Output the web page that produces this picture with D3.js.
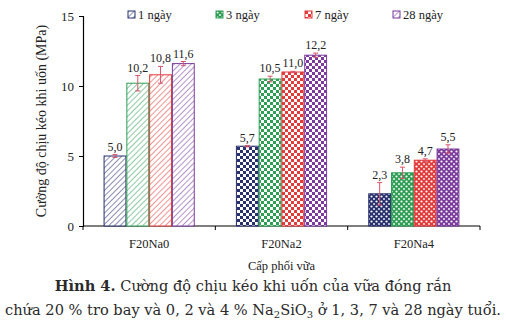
<!DOCTYPE html>
<html><head><meta charset="utf-8">
<script src="https://cdn.jsdelivr.net/npm/d3@7"></script>
<style>body{margin:0;background:#fff}svg{display:block} .sf{font-family:"Liberation Serif","Times New Roman",Times,serif}</style>
</head><body><svg id="c" width="506" height="334"></svg>
<script>
const categories = ["F20Na0", "F20Na2", "F20Na4"];
const seriesNames = ["1 ngày", "3 ngày", "7 ngày", "28 ngày"];
const values = [
  [5.0, 5.7, 2.3],
  [10.2, 10.5, 3.8],
  [10.8, 11.0, 4.7],
  [11.6, 12.2, 5.5]
];
const errors = [
  [0.1, 0.05, 0.8],
  [0.55, 0.2, 0.4],
  [0.6, 0.05, 0.1],
  [0.15, 0.15, 0.3]
];
const labels = [
  ["5,0", "5,7", "2,3"],
  ["10,2", "10,5", "3,8"],
  ["10,8", "11,0", "4,7"],
  ["11,6", "12,2", "5,5"]
];
const yTicks = [0, 5, 10, 15];
const colors = ["#28306e", "#2e9e54", "#e23b3b", "#7a3b9c"];

const svg = d3.select("#c");
const m = {l: 83, r: 26, t: 16, b: 108};
const W = 506, H = 334;
const x = d3.scaleBand().domain(categories).range([m.l, W - m.r]).paddingInner(0).paddingOuter(0);
const y = d3.scaleLinear().domain([0, 15]).range([H - m.b, m.t]);
const barW = 23;
const xs = d3.scaleBand().domain(d3.range(4)).range([0, barW * 4]).padding(0.04);

const defs = svg.append("defs");
colors.forEach((c, i) => {
  const p0 = defs.append("pattern").attr("id", `h${i}`).attr("patternUnits", "userSpaceOnUse")
    .attr("width", 4).attr("height", 4).attr("patternTransform", "rotate(45)");
  p0.append("rect").attr("width", 4).attr("height", 4).attr("fill", "#fff");
  p0.append("line").attr("x1", 0).attr("y1", 0).attr("x2", 0).attr("y2", 4).attr("stroke", c).attr("stroke-width", 1.1);
  const p1 = defs.append("pattern").attr("id", `k${i}`).attr("patternUnits", "userSpaceOnUse")
    .attr("width", 6).attr("height", 6);
  p1.append("rect").attr("width", 6).attr("height", 6).attr("fill", "#fff");
  p1.append("rect").attr("width", 3).attr("height", 3).attr("fill", c);
  p1.append("rect").attr("x", 3).attr("y", 3).attr("width", 3).attr("height", 3).attr("fill", c);
  const p2 = defs.append("pattern").attr("id", `d${i}`).attr("patternUnits", "userSpaceOnUse")
    .attr("width", 5).attr("height", 5);
  p2.append("rect").attr("width", 5).attr("height", 5).attr("fill", c);
  p2.append("circle").attr("cx", 1.5).attr("cy", 1.5).attr("r", 1.1).attr("fill", "#fff");
  p2.append("circle").attr("cx", 4).attr("cy", 4).attr("r", 0.9).attr("fill", "#fff");
});
const pat = ["h", "k", "d"];

// axes
const yAxis = svg.append("g").attr("transform", `translate(${m.l},0)`)
  .call(d3.axisLeft(y).tickValues(yTicks).tickSize(4).tickPadding(5));
yAxis.select(".domain").attr("stroke", "#000").attr("stroke-width", 1.2);
yAxis.selectAll("text").attr("class", "sf").attr("font-family", null).attr("font-size", 13).attr("fill", "#222");

const xAxisG = svg.append("g").attr("transform", `translate(0,${y(0)})`);
xAxisG.append("line").attr("x1", m.l).attr("x2", W - m.r).attr("stroke", "#000").attr("stroke-width", 1.2);
const bounds = categories.map(c => x(c)).concat([x(categories[2]) + x.bandwidth()]);
xAxisG.selectAll(".tk").data(bounds).join("line").attr("x1", d => d).attr("x2", d => d)
  .attr("y1", 0).attr("y2", 4).attr("stroke", "#000");
xAxisG.selectAll(".cl").data(categories).join("text").attr("class", "sf")
  .attr("x", d => x(d) + x.bandwidth() / 2).attr("y", 22).attr("text-anchor", "middle")
  .attr("font-size", 12.5).attr("fill", "#222").text(d => d);

// bars
seriesNames.forEach((s, si) => {
  categories.forEach((c, ci) => {
    const bx = x(c) + x.bandwidth() / 2 - barW * 2 + xs(si);
    const v = values[si][ci];
    svg.append("rect").attr("x", bx).attr("y", y(v)).attr("width", xs.bandwidth())
      .attr("height", y(0) - y(v)).attr("fill", `url(#${pat[ci]}${si})`)
      .attr("stroke", colors[si]).attr("stroke-width", 1);
    const cx = bx + xs.bandwidth() / 2, e = errors[si][ci];
    const eg = svg.append("g").attr("stroke", "#d9536b").attr("stroke-width", 1);
    eg.append("line").attr("x1", cx).attr("x2", cx).attr("y1", y(v - e)).attr("y2", y(v + e));
    eg.append("line").attr("x1", cx - 2.5).attr("x2", cx + 2.5).attr("y1", y(v + e)).attr("y2", y(v + e));
    eg.append("line").attr("x1", cx - 2.5).attr("x2", cx + 2.5).attr("y1", y(v - e)).attr("y2", y(v - e));
    svg.append("text").attr("class", "sf").attr("x", cx).attr("y", y(v + e) - 4).attr("text-anchor", "middle")
      .attr("font-size", 12).attr("fill", "#222").text(labels[si][ci]);
  });
});

// legend
const legX = [128, 216, 305, 393];
const legPat = ["h", "d", "k", "h"];
seriesNames.forEach((s, i) => {
  const g = svg.append("g").attr("transform", `translate(${legX[i]},11)`);
  g.append("rect").attr("width", 7).attr("height", 7).attr("fill", `url(#${legPat[i]}${i})`)
    .attr("stroke", colors[i]).attr("stroke-width", 1);
  g.append("text").attr("class", "sf").attr("x", 10).attr("y", 7.5).attr("font-size", 12.5)
    .attr("fill", "#222").text(s);
});

// axis titles
svg.append("text").attr("class", "sf").attr("transform", `translate(46,${(y(0) + y(15)) / 2}) rotate(-90)`)
  .attr("text-anchor", "middle").attr("font-size", 14).attr("fill", "#222")
  .text("Cường độ chịu kéo khi uốn (MPa)");
svg.append("text").attr("class", "sf").attr("x", (m.l + W - m.r) / 2).attr("y", 270).attr("text-anchor", "middle")
  .attr("font-size", 12.5).attr("fill", "#222").text("Cấp phối vữa");

// caption
const capFont = "'DejaVu Serif', serif";
const c1 = svg.append("text").attr("x", W / 2).attr("y", 291).attr("text-anchor", "middle")
  .attr("font-family", capFont).attr("font-size", 14.6).attr("fill", "#2a2a2a");
c1.append("tspan").attr("font-weight", "bold").text("Hình 4.");
c1.append("tspan").text(" Cường độ chịu kéo khi uốn của vữa đóng rắn");
const c2 = svg.append("text").attr("x", W / 2).attr("y", 315).attr("text-anchor", "middle")
  .attr("font-family", capFont).attr("font-size", 14.6).attr("fill", "#2a2a2a");
c2.append("tspan").text("chứa 20 % tro bay và 0, 2 và 4 % Na");
c2.append("tspan").attr("font-size", 10).attr("dy", 3).text("2");
c2.append("tspan").attr("dy", -3).text("SiO");
c2.append("tspan").attr("font-size", 10).attr("dy", 3).text("3");
c2.append("tspan").attr("dy", -3).text(" ở 1, 3, 7 và 28 ngày tuổi.");
</script></body></html>
